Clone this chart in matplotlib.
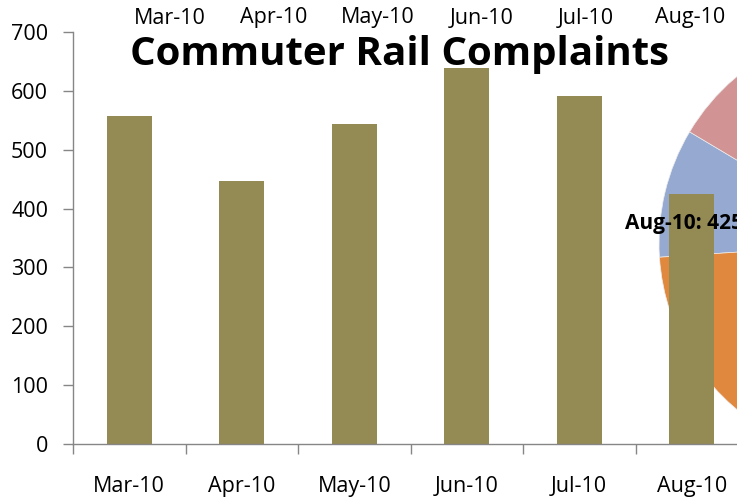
import matplotlib
matplotlib.use("Agg")
import matplotlib.pyplot as plt

plt.rcParams['font.family'] = ['Open Sans', 'DejaVu Sans']

# monthly complaints (bars)
months = ["Mar-10", "Apr-10", "May-10", "Jun-10", "Jul-10", "Aug-10"]
complaints = [557, 447, 544, 639, 591, 425]

# pie behind the bars, only partly visible (shares estimated from the visible wedges)
pie_shares = [9.6, 16.7, 20.0, 18.0, 15.0, 20.7]
pie_colors = ["#95A9D1", "#E0883D", "#B9CD96", "#A99BBD", "#92C8DB", "#D19393"]
pie_label = "Aug-10: 425"

W, H = 737, 501
fig = plt.figure(figsize=(W / 100, H / 100), dpi=100)

# pie axes (centre ~ (876, 243) px, radius ~ 217 px)
cx, cy, r = 876, 243, 217
pax = fig.add_axes([(cx - r) / W, (H - cy - r) / H, 2 * r / W, 2 * r / H], zorder=0)
pax.pie(pie_shares, colors=pie_colors, startangle=149.2, counterclock=True,
        wedgeprops=dict(linewidth=0.5, edgecolor="#EEEEEE"))
pax.set_xlim(-1, 1)
pax.set_ylim(-1, 1)
pax.set_aspect("equal")
pax.axis("off")

# bar axes
ax = fig.add_axes([73 / W, 57 / H, 675 / W, 412 / H], zorder=1)
ax.patch.set_alpha(0)
x = range(len(months))
ax.bar(x, complaints, width=0.4, color="#948A54", zorder=2)
ax.set_xlim(-0.5, len(months) - 0.5)
ax.set_ylim(0, 700)
ax.set_yticks(range(0, 701, 100))

ax.set_xticks(list(x))
ax.set_xticklabels(months)
ax.set_xticks([i - 0.5 for i in range(len(months) + 1)], minor=True)
ax.tick_params(axis="x", which="major", length=0, pad=23, labelsize=15.5)
ax.tick_params(axis="x", which="minor", length=7, color="#868686", width=1)
ax.tick_params(axis="y", length=7, color="#868686", width=1, pad=11, labelsize=15.5)

for s in ["top", "right"]:
    ax.spines[s].set_visible(False)
for s in ["left", "bottom"]:
    ax.spines[s].set_color("#868686")
    ax.spines[s].set_linewidth(1)

# top row of month labels
for i, m in enumerate(months):
    fig.text((170 + 104 * i) / W, 1 - 18 / H, m, ha="center", va="center", fontsize=15.5)

fig.text(399 / W, 1 - 54 / H, "Commuter Rail Complaints", ha="center", va="center",
         fontsize=29, fontweight="bold")

fig.text(625 / W, 1 - 223 / H, pie_label, ha="left", va="center",
         fontsize=15, fontweight="bold")

fig.savefig("out.png", dpi=100)
